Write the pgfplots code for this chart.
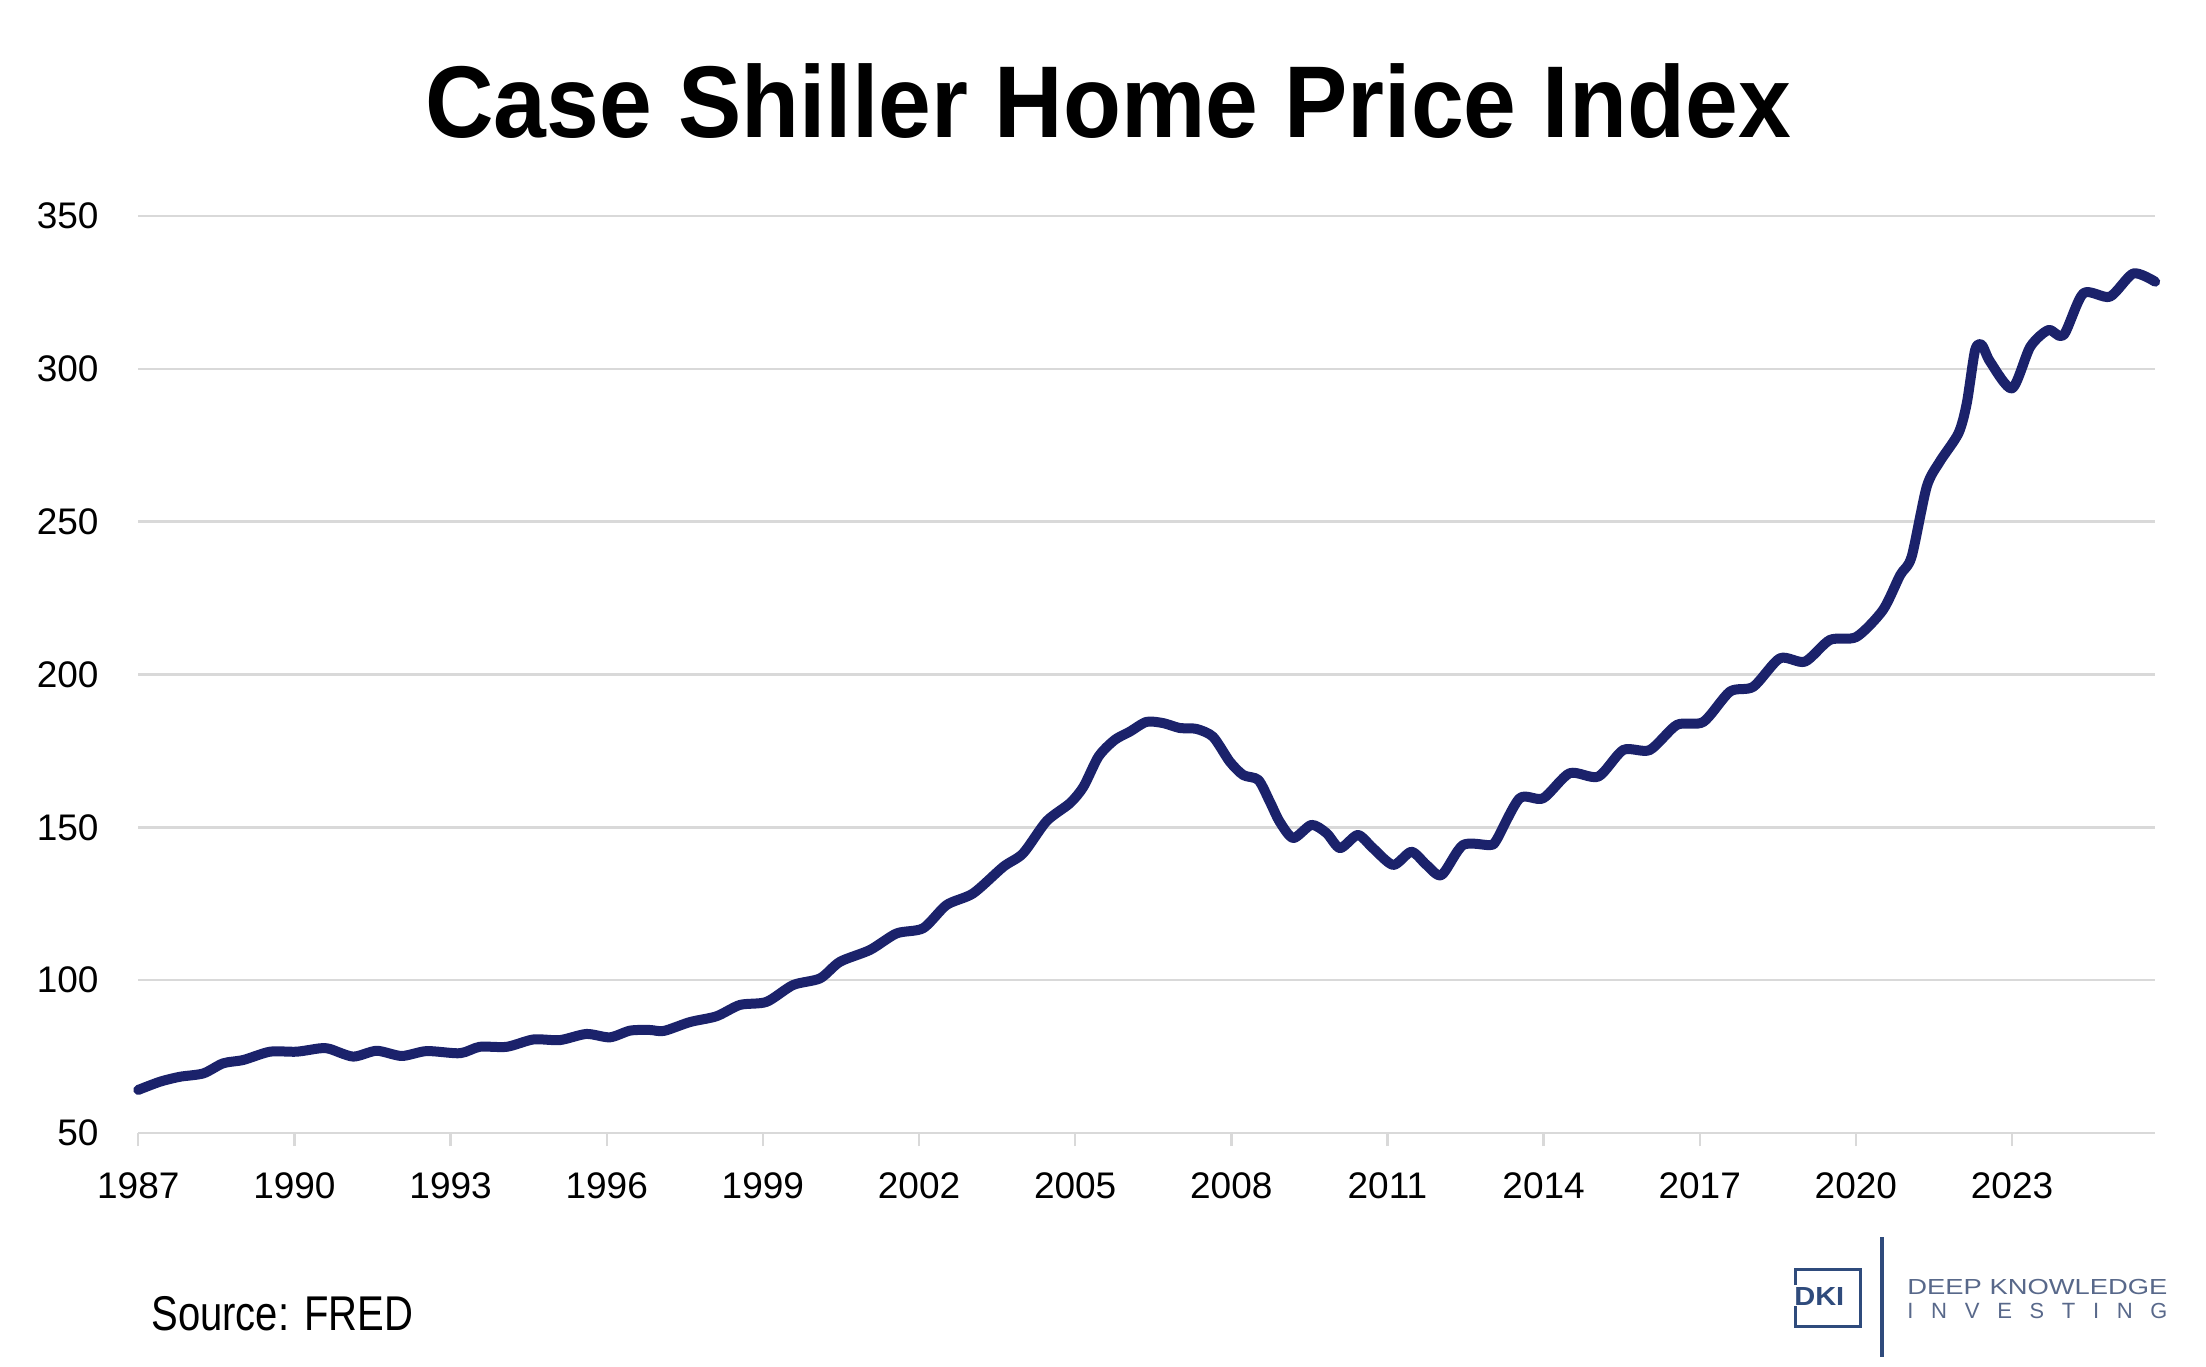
\documentclass[border=0pt]{standalone}
\usepackage{pgfplots}
\pgfplotsset{compat=1.18}
\usepackage{fontspec}
\usepackage{graphicx}
\setmainfont{Liberation Sans}
\definecolor{navyline}{RGB}{27,34,107}
\definecolor{gridgrey}{RGB}{217,217,217}
\definecolor{logoblue}{RGB}{47,75,124}
\definecolor{logotext}{RGB}{88,104,138}
\begin{document}
\begin{tikzpicture}
\path[use as bounding box] (-69.15pt,-116.5pt) rectangle (1033.85pt,566.5pt);
\begin{axis}[
  at={(0pt,0pt)}, anchor=origin,
  scale only axis,
  width=1008.4pt, height=458.5pt,
  xmin=1987, xmax=2025.75,
  ymin=50, ymax=350,
  xtick={1987,1990,...,2023},
  ytick={50,100,...,350},
  ymajorgrids=true,
  grid style={gridgrey, line width=1.2pt},
  axis line style={draw=none},
  xtick pos=bottom,
  ytick style={draw=none},
  xtick style={draw=gridgrey, line width=1.2pt},
  major tick length=6.5pt,
  tick align=outside,
  /pgf/number format/assume math mode=true,
  /pgf/number format/1000 sep={},
  tick label style={font=\fontsize{18.5}{22}\selectfont, text=black},
  yticklabel style={anchor=east, inner sep=0pt, xshift=-13.2pt},
  xticklabel style={anchor=north, inner sep=0pt, yshift=-13pt},
  clip=false,
]
\addplot[navyline, line width=5pt, smooth, tension=0.45, line cap=round, line join=round] coordinates {
(1987.00,64.1)
(1987.42,66.8)
(1987.80,68.4)
(1988.25,69.5)
(1988.63,72.8)
(1989.02,73.9)
(1989.53,76.6)
(1990.04,76.6)
(1990.49,77.7)
(1990.68,77.5)
(1991.13,75.0)
(1991.58,76.9)
(1992.06,75.2)
(1992.54,76.8)
(1993.18,76.1)
(1993.56,78.2)
(1994.08,78.2)
(1994.59,80.6)
(1995.10,80.4)
(1995.61,82.4)
(1996.06,81.3)
(1996.45,83.5)
(1996.83,83.7)
(1997.10,83.4)
(1997.60,86.3)
(1998.11,88.2)
(1998.56,91.9)
(1999.07,92.9)
(1999.58,98.4)
(2000.10,100.6)
(2000.48,106.0)
(2001.06,109.9)
(2001.57,115.3)
(2002.08,117.0)
(2002.53,124.6)
(2003.04,128.4)
(2003.62,137.1)
(2004.00,141.5)
(2004.45,152.0)
(2004.90,157.9)
(2005.16,163.3)
(2005.45,173.2)
(2005.76,178.6)
(2006.05,181.3)
(2006.37,184.5)
(2006.69,184.1)
(2007.01,182.5)
(2007.33,182.2)
(2007.65,179.6)
(2007.97,171.5)
(2008.23,167.1)
(2008.52,165.5)
(2008.74,158.4)
(2008.93,151.8)
(2009.19,146.5)
(2009.54,150.8)
(2009.83,148.1)
(2010.09,143.2)
(2010.43,147.5)
(2010.72,143.2)
(2011.11,137.7)
(2011.46,142.0)
(2011.75,137.7)
(2012.04,134.4)
(2012.45,144.2)
(2012.97,144.2)
(2013.10,146.0)
(2013.54,159.5)
(2013.99,159.5)
(2014.50,167.7)
(2015.05,166.6)
(2015.53,175.3)
(2016.04,175.3)
(2016.56,183.5)
(2017.07,184.5)
(2017.58,194.4)
(2018.03,196.0)
(2018.54,205.3)
(2019.02,204.2)
(2019.50,211.3)
(2020.01,212.3)
(2020.52,221.1)
(2020.85,232.5)
(2021.07,238.5)
(2021.36,261.4)
(2021.61,269.6)
(2021.97,278.9)
(2022.13,288.7)
(2022.29,306.1)
(2022.42,307.8)
(2022.58,302.3)
(2023.00,293.6)
(2023.35,307.2)
(2023.70,312.7)
(2023.99,311.0)
(2024.37,324.7)
(2024.88,323.6)
(2025.33,331.2)
(2025.75,328.5)
};
\end{axis}
% title
\node[anchor=base, inner sep=0pt] at (484.9pt,497.5pt)
  {\scalebox{0.93}[1]{\fontsize{51}{60}\selectfont\bfseries Case Shiller Home Price Index}};
% source
\node[anchor=base west, inner sep=0pt] at (6.35pt,-98.7pt)
  {\scalebox{0.82}[1]{\fontsize{24.4}{28}\selectfont Source: FRED}};
% logo
\draw[logoblue, line width=1.5pt] (828.35pt,-76pt) -- (828.35pt,-68pt) -- (860.85pt,-68pt) -- (860.85pt,-96.5pt) -- (828.35pt,-96.5pt) -- (828.35pt,-86.5pt);
\node[anchor=base west, inner sep=0pt, text=logoblue] at (827.8pt,-86pt)
  {\resizebox{25pt}{9pt}{\bfseries DKI}};
\draw[logoblue, line width=1.7pt] (871.85pt,-52pt) -- (871.85pt,-112pt);
\node[anchor=base west, inner sep=0pt, text=logotext] at (884.35pt,-80.5pt)
  {\resizebox{130pt}{7.6pt}{DEEP KNOWLEDGE}};
\node[anchor=base west, inner sep=0pt, text=logotext] at (884.35pt,-92.5pt)
  {\makebox[130pt][s]{\resizebox{!}{7.6pt}{I}\hfill\resizebox{!}{7.6pt}{N}\hfill\resizebox{!}{7.6pt}{V}\hfill\resizebox{!}{7.6pt}{E}\hfill\resizebox{!}{7.6pt}{S}\hfill\resizebox{!}{7.6pt}{T}\hfill\resizebox{!}{7.6pt}{I}\hfill\resizebox{!}{7.6pt}{N}\hfill\resizebox{!}{7.6pt}{G}}};
\end{tikzpicture}
\end{document}
